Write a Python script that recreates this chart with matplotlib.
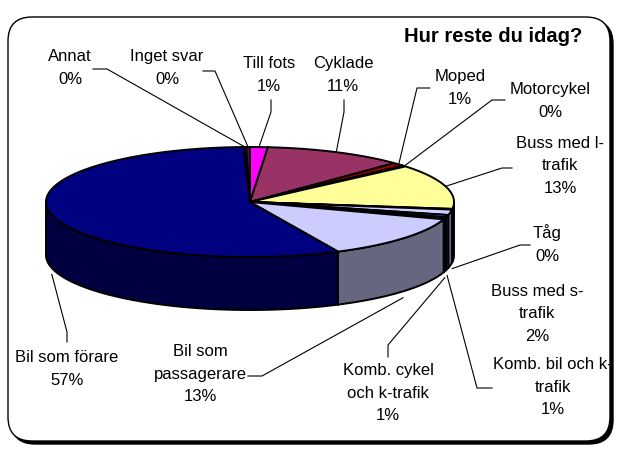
import numpy as np
import matplotlib
matplotlib.use('Agg')
import matplotlib.pyplot as plt
from matplotlib.patches import Polygon, FancyBboxPatch
from matplotlib.colors import to_rgb

plt.rcParams['font.family'] = ['Liberation Sans', 'DejaVu Sans']

# slices, clockwise from 12 o'clock
names = ['Till fots', 'Cyklade', 'Moped', 'Motorcykel', 'Buss med l-\ntrafik', 'Tåg',
         'Buss med s-\ntrafik', 'Komb. bil och k-\ntrafik', 'Komb. cykel\noch k-trafik',
         'Bil som\npassagerare', 'Bil som förare', 'Annat', 'Inget svar']
shares = [1.4, 11.1, 1.0, 0.3, 13.2, 0.2, 1.6, 0.7, 0.6, 12.8, 56.6, 0.2, 0.3]
colors = ['#FF00FF', '#993366', '#990000', '#E8E800', '#FFFF99', '#C0C0C0',
          '#D0D0FF', '#3366FF', '#333399', '#CCCCFF', '#000080', '#800080', '#660066']

# label centres and leader stubs (pixels)
label_pos = [(269, 75), (343, 75), (460, 88), (550, 101), (560, 166), (547, 244),
             (537, 314), (553, 387), (388, 393), (200, 374), (67, 369), (70, 68), (167, 68)]
stubs = [((271, 100), (271, 112)), ((344, 100), (344, 112)), ((430, 88), (417, 88)),
         ((505, 100), (492, 100)), ((512, 168), (502, 168)), ((530, 245), (520, 245)),
         None, ((492, 388), (477, 388)), ((388, 357), (388, 345)), ((248, 376), (262, 376)),
         ((67, 342), (67, 332)), ((93, 69), (107, 69)), ((203, 71), (215, 71))]

# pie geometry in pixels
cx, cy, a, b, depth = 250, 202, 204, 55, 53


def rim(t):
    """point on the top ellipse, t in degrees clockwise from 12 o'clock"""
    r = np.radians(t)
    return cx + a * np.sin(r), cy - b * np.cos(r)


def arc(t1, t2):
    n = max(2, int(abs(t2 - t1)) + 2)
    t = np.linspace(t1, t2, n)
    x, y = rim(t)
    return np.column_stack([x, y])


def darker(c, f=0.5):
    return tuple(v * f for v in to_rgb(c))


fig = plt.figure(figsize=(6.19, 4.5), dpi=100)
ax = fig.add_axes([0, 0, 1, 1])
ax.set_xlim(0, 619)
ax.set_ylim(450, 0)
ax.axis('off')

# frame with shadow
ax.add_patch(FancyBboxPatch((11, 20), 602, 424, boxstyle='round,pad=0,rounding_size=24',
                            facecolor='black', edgecolor='black', lw=1))
ax.add_patch(FancyBboxPatch((8, 17), 602, 424, boxstyle='round,pad=0,rounding_size=24',
                            facecolor='white', edgecolor='black', lw=1))

ax.text(582, 37, 'Hur reste du idag?', fontsize=14.5, fontweight='bold',
        ha='right', va='center')

ends = np.cumsum(shares) / np.sum(shares) * 360
starts = ends - np.array(shares) / np.sum(shares) * 360

# outer walls, only the front half is seen
for t1, t2, c in zip(starts, ends, colors):
    lo, hi = max(t1, 90), min(t2, 270)
    if hi <= lo:
        continue
    top = arc(lo, hi)
    bottom = top[::-1] + [0, depth]
    ax.add_patch(Polygon(np.vstack([top, bottom]), closed=True,
                         facecolor=darker(c), edgecolor='black', lw=1.4))

# top faces
for t1, t2, c in zip(starts, ends, colors):
    pts = np.vstack([[cx, cy], arc(t1, t2)])
    ax.add_patch(Polygon(pts, closed=True, facecolor=c, edgecolor='black', lw=1.4))

# labels and leader lines
for name, v, t1, t2, pos, stub in zip(names, shares, starts, ends, label_pos, stubs):
    ax.text(pos[0], pos[1], '{}\n{:.0f}%'.format(name, v), fontsize=12,
            ha='center', va='center', linespacing=1.6)
    if stub is None:
        continue
    m = (t1 + t2) / 2
    x, y = rim(m)
    if np.cos(np.radians(m)) < 0:
        y += depth * 1.12
    ax.plot([stub[0][0], stub[1][0], x], [stub[0][1], stub[1][1], y],
            color='black', lw=0.8)

fig.savefig('out.png', dpi=100)
